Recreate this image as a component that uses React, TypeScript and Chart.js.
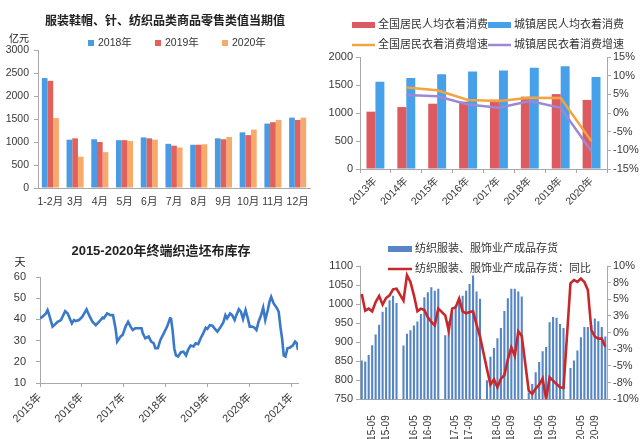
import React, { useEffect, useRef } from 'react';
import { Chart, registerables } from 'chart.js';

Chart.register(...registerables);

const FONT = '"Liberation Sans", "Noto Sans CJK SC", sans-serif';
const TICK = '#383838';
const AXIS = '#A8A8A8';

// ---------- Chart 1: 服装鞋帽、针、纺织品类商品零售类值当期值 ----------
const months1 = ['1-2月', '3月', '4月', '5月', '6月', '7月', '8月', '9月', '10月', '11月', '12月'];
const sales2018 = [2390, 1050, 1060, 1040, 1100, 960, 940, 1080, 1210, 1400, 1530];
const sales2019 = [2330, 1080, 1000, 1040, 1080, 920, 940, 1060, 1150, 1430, 1480];
const sales2020 = [1520, 680, 780, 1020, 1050, 880, 950, 1110, 1270, 1480, 1530];

// ---------- Chart 2: 人均衣着消费 ----------
const years2 = ['2013年', '2014年', '2015年', '2016年', '2017年', '2018年', '2019年', '2020年'];
const nationalSpend = [1024, 1106, 1166, 1203, 1238, 1292, 1338, 1234];
const urbanSpend = [1556, 1627, 1692, 1739, 1758, 1806, 1835, 1645];
const nationalGrowth = [null, 6.8, 6.1, 3.5, 3.2, 4.1, 4.0, -7.6];
const urbanGrowth = [null, 4.8, 4.5, 2.3, 1.4, 3.2, 1.4, -10.3];

// ---------- Chart 3: 2015-2020年终端织造坯布库存 (weekly, x = year fraction) ----------
const stockT = [
  2015.0, 2015.06, 2015.14, 2015.18, 2015.22, 2015.3, 2015.34, 2015.42, 2015.5, 2015.6,
  2015.66, 2015.76, 2015.81, 2015.85, 2015.93, 2016.01, 2016.11, 2016.17, 2016.25, 2016.33,
  2016.41, 2016.49, 2016.52, 2016.6, 2016.68, 2016.74, 2016.8, 2016.84, 2016.92, 2016.97,
  2017.04, 2017.1, 2017.16, 2017.21, 2017.27, 2017.35, 2017.42, 2017.45, 2017.51, 2017.59,
  2017.65, 2017.71, 2017.75, 2017.81, 2017.87, 2017.95, 2018.03, 2018.1, 2018.12, 2018.16,
  2018.2, 2018.24, 2018.29, 2018.36, 2018.42, 2018.48, 2018.53, 2018.59, 2018.66, 2018.71,
  2018.77, 2018.83, 2018.89, 2018.95, 2018.99, 2019.05, 2019.11, 2019.16, 2019.23, 2019.31,
  2019.37, 2019.42, 2019.46, 2019.53, 2019.58, 2019.64, 2019.68, 2019.74, 2019.79, 2019.84,
  2019.9, 2019.95, 2020.0, 2020.05, 2020.11, 2020.16, 2020.21, 2020.27, 2020.32, 2020.37,
  2020.43, 2020.47, 2020.51, 2020.57, 2020.65, 2020.69, 2020.73, 2020.77, 2020.81, 2020.85,
  2020.9, 2020.96, 2021.03, 2021.08, 2021.12, 2021.15,
];
const stockDays = [
  40.5, 41.3, 42.8, 44.4, 42, 36.6, 37.3, 38.9, 39.7, 43.9,
  42.8, 38.1, 39.7, 39.2, 39.7, 41.3, 44.7, 42, 38.9, 37.3,
  38.9, 40.8, 40.5, 42.8, 42, 42, 35.8, 29.5, 31.9, 32.7,
  36.6, 38.9, 36.6, 35, 35.8, 35.8, 35.8, 33.4, 31.1, 31.9,
  29.5, 28.75, 26.4, 26.4, 30.3, 33.4, 36.6, 40.5, 40.8, 35,
  26.4, 23, 22.5, 24.5, 24.8, 23, 25.6, 27.7, 27.2, 28.75,
  28.3, 31.1, 33.4, 36.1, 35.5, 37.3, 37, 35.8, 34.2, 36.6,
  38.6, 42, 40.5, 42.8, 42, 39.7, 42, 44.8, 43.6, 40.2,
  44.4, 40.8, 36.6, 36.6, 36.1, 35, 38.9, 42, 45.5, 39.7,
  44.4, 48.3, 50.6, 47.5, 45.2, 43.6, 36.6, 31.1, 23, 22.5,
  26.4, 26.7, 27.8, 29.5, 28.75, 25.6,
];
const stockYears = [2015, 2016, 2017, 2018, 2019, 2020, 2021];

// ---------- Chart 4: 纺织服装、服饰业产成品存货 (monthly 2015-02 .. 2020-12) ----------
const months4: string[] = [];
for (let y = 15; y <= 20; y++) {
  for (let m = y === 15 ? 2 : 1; m <= 12; m++) months4.push(`${y}-${String(m).padStart(2, '0')}`);
}
const inventory = [
  852, 849, 866, 892, 920, 946, 980, 992, 1010, 1022, 1003,
  null, 891, 922, 931, 944, 954, 974, 1018, 1031, 1044, 1035, 1040,
  null, 918, 955, 979, 996, 1014, 1022, 1035, 1053, 1075, 1033, 1014,
  null, 800, 862, 885, 910, 937, 982, 1015, 1040, 1040, 1033, 1020,
  null, 768, 790, 821, 848, 876, 887, 952, 966, 964, 948, 937,
  null, 832, 852, 878, 913, 940, 940, 945, 962, 955, 940, 915,
];
const inventoryYoY = [
  5.8, 3.3, 3.6, 3.2, 4.6, 5.5, 4.2, 5.2, 5.6, 6.5, 6.6,
  null, 4.8, 8.6, 7.6, 5.6, 3.2, 3.6, 3.4, 2.3, 1.6, 1.1, 3.6,
  null, 2.6, 0.3, 3.6, 3.8, 5.1, 3.2, 2.9, 3.1, 3.2, 1.2, -0.6,
  null, -5.5, -7.8, -7.0, -8.2, -6.9, -6.4, -4.0, -2.2, -3.5, 0.2, -0.5,
  null, -8.7, -9.2, -8.4, -7.8, -6.9, -10.0, -6.7, -7.2, -7.7, -8.2, -8.3,
  null, 7.4, 7.9, 7.6, 8.1, 7.6, 6.4, 0.4, -0.6, -0.9, -0.9, -2.1,
];

// ---------- helpers ----------
const font = (size: number, weight: string = 'normal') => ({ family: FONT, size, weight });
const cssFont = (size: number, weight: string = 'normal') => `${weight} ${size}px ${FONT}`;
const plain = (v: number) => String(v);

const overlay = {
  id: 'overlay',
  afterDraw(chart: any, _a: any, opts: any) {
    const ctx = chart.ctx;
    ctx.save();
    ctx.textBaseline = 'middle';
    (opts.texts || []).forEach((t: any) => {
      ctx.font = t.font;
      ctx.fillStyle = t.color || '#222';
      ctx.textAlign = t.align || 'left';
      ctx.fillText(t.text, t.x, t.y);
    });
    (opts.legend || []).forEach((it: any) => {
      const ds = chart.data.datasets[it.index];
      if (it.kind === 'line') {
        ctx.strokeStyle = ds.borderColor;
        ctx.lineWidth = 2.5;
        ctx.beginPath();
        ctx.moveTo(it.x, it.y);
        ctx.lineTo(it.x + it.w, it.y);
        ctx.stroke();
      } else {
        ctx.fillStyle = ds.backgroundColor;
        ctx.fillRect(it.x, it.y - it.h / 2, it.w, it.h);
      }
      ctx.fillStyle = '#333';
      ctx.font = it.font;
      ctx.textAlign = 'left';
      ctx.fillText(ds.label, it.x + it.w + it.gap, it.y);
    });
    ctx.restore();
  },
};

const yAxisBase = (width: number) => ({
  grid: { display: true, drawOnChartArea: false, drawTicks: true, tickLength: 4, color: AXIS },
  border: { display: true, color: AXIS },
  afterFit: (s: any) => { s.width = width; },
});

function ChartBox({ left, top, width, height, make }: any) {
  const ref = useRef<HTMLCanvasElement>(null);
  useEffect(() => {
    const chart = new Chart(ref.current as HTMLCanvasElement, make());
    return () => chart.destroy();
  }, []);
  return (
    <div style={{ position: 'absolute', left, top, width, height }}>
      <canvas ref={ref} width={width} height={height} style={{ display: 'block' }} />
    </div>
  );
}

const makeQ1 = (): any => ({
  type: 'bar',
  data: {
    labels: months1,
    datasets: [
      { label: '2018年', data: sales2018, backgroundColor: '#4A9BE3' },
      { label: '2019年', data: sales2019, backgroundColor: '#E2625B' },
      { label: '2020年', data: sales2020, backgroundColor: '#F6AA6C' },
    ],
  },
  plugins: [overlay],
  options: {
    responsive: false,
    animation: false,
    layout: { padding: { top: 50, right: 10, left: 0, bottom: 0 } },
    datasets: { bar: { categoryPercentage: 0.69, barPercentage: 1 } },
    plugins: {
      legend: { display: false },
      tooltip: { enabled: false },
      overlay: {
        texts: [
          { text: '服装鞋帽、针、纺织品类商品零售类值当期值', x: 165, y: 22, font: cssFont(12, 'bold'), align: 'center' },
          { text: '亿元', x: 9, y: 39, font: cssFont(10) },
        ],
        legend: [
          { index: 0, x: 88, y: 43, w: 6, h: 6, gap: 4, font: cssFont(10.5) },
          { index: 1, x: 155, y: 43, w: 6, h: 6, gap: 4, font: cssFont(10.5) },
          { index: 2, x: 222, y: 43, w: 6, h: 6, gap: 4, font: cssFont(10.5) },
        ],
      },
    },
    scales: {
      x: {
        grid: { display: true, drawOnChartArea: false, drawTicks: false, color: AXIS },
        border: { display: true, color: AXIS },
        ticks: { font: font(10.5), color: TICK, padding: 8, maxRotation: 0, autoSkip: false },
        afterFit: (s: any) => { s.height = 32; },
      },
      y: {
        ...yAxisBase(38),
        min: 0,
        max: 3000,
        ticks: { font: font(10.5), color: TICK, padding: 5, stepSize: 500, callback: plain },
      },
    },
  },
});

const makeQ2 = (): any => ({
  type: 'bar',
  data: {
    labels: years2,
    datasets: [
      { label: '全国居民人均衣着消费', data: nationalSpend, backgroundColor: '#DE5A61', yAxisID: 'y', order: 2 },
      { label: '城镇居民人均衣着消费', data: urbanSpend, backgroundColor: '#47A1EA', yAxisID: 'y', order: 2 },
      { type: 'line', label: '全国居民衣着消费增速', data: nationalGrowth, borderColor: '#F4A43E', backgroundColor: '#F4A43E', borderWidth: 2.5, pointRadius: 0, yAxisID: 'y1', order: 0 },
      { type: 'line', label: '城镇居民衣着消费增速', data: urbanGrowth, borderColor: '#9C89D6', backgroundColor: '#9C89D6', borderWidth: 2.5, pointRadius: 0, yAxisID: 'y1', order: 1 },
    ],
  },
  plugins: [overlay],
  options: {
    responsive: false,
    animation: false,
    layout: { padding: { top: 57, right: 0, left: 0, bottom: 0 } },
    datasets: { bar: { categoryPercentage: 0.58, barPercentage: 1 } },
    plugins: {
      legend: { display: false },
      tooltip: { enabled: false },
      overlay: {
        legend: [
          { index: 0, x: 32, y: 25, w: 23, h: 6, gap: 3, font: cssFont(11) },
          { index: 1, x: 168, y: 25, w: 23, h: 6, gap: 3, font: cssFont(11) },
          { index: 2, x: 32, y: 45, w: 23, h: 6, gap: 3, font: cssFont(11), kind: 'line' },
          { index: 3, x: 168, y: 45, w: 23, h: 6, gap: 3, font: cssFont(11), kind: 'line' },
        ],
      },
    },
    scales: {
      x: {
        grid: { display: true, drawOnChartArea: false, drawTicks: true, tickLength: 4, color: AXIS },
        border: { display: true, color: AXIS },
        ticks: { font: font(10.5), color: TICK, padding: 2, minRotation: 45, maxRotation: 45, autoSkip: false },
        afterFit: (s: any) => { s.height = 51; },
      },
      y: {
        ...yAxisBase(40),
        position: 'left',
        min: 0,
        max: 2000,
        ticks: { font: font(11), color: TICK, padding: 3, stepSize: 500, callback: plain },
      },
      y1: {
        ...yAxisBase(33),
        position: 'right',
        min: -15,
        max: 15,
        ticks: { font: font(11), color: TICK, padding: 2, stepSize: 5, callback: (v: number) => `${v}%` },
      },
    },
  },
});

const makeQ3 = (): any => ({
  type: 'line',
  data: {
    datasets: [
      {
        label: '坯布库存',
        data: stockT.map((t, i) => ({ x: t, y: stockDays[i] })),
        borderColor: '#3A78C9',
        borderWidth: 2.6,
        pointRadius: 0,
        tension: 0,
      },
    ],
  },
  plugins: [overlay],
  options: {
    responsive: false,
    animation: false,
    layout: { padding: { top: 57, right: 22, left: 0, bottom: 0 } },
    plugins: {
      legend: { display: false },
      tooltip: { enabled: false },
      overlay: {
        texts: [
          { text: '2015-2020年终端织造坯布库存', x: 161, y: 31, font: cssFont(13, 'bold'), align: 'center' },
          { text: '天', x: 20, y: 43, font: cssFont(11), align: 'center' },
        ],
      },
    },
    scales: {
      x: {
        type: 'linear',
        min: stockYears[0],
        max: 2021.15,
        grid: { display: true, drawOnChartArea: false, drawTicks: true, tickLength: 4, color: AXIS },
        border: { display: true, color: AXIS },
        ticks: {
          font: font(11),
          color: TICK,
          padding: 4,
          stepSize: 1,
          includeBounds: false,
          minRotation: 45,
          maxRotation: 45,
          callback: (v: number) => (stockYears.includes(v) ? `${v}年` : ''),
        },
        afterFit: (s: any) => { s.height = 56; },
      },
      y: {
        ...yAxisBase(40),
        min: 10,
        max: 60,
        ticks: { font: font(11), color: TICK, padding: 10, stepSize: 10, callback: plain },
      },
    },
  },
});

const makeQ4 = (): any => ({
  type: 'bar',
  data: {
    labels: months4,
    datasets: [
      { label: '纺织服装、服饰业产成品存货', data: inventory, backgroundColor: '#5585C5', yAxisID: 'y', order: 1 },
      { type: 'line', label: '纺织服装、服饰业产成品存货：同比', data: inventoryYoY, borderColor: '#C8282B', backgroundColor: '#C8282B', borderWidth: 2.6, pointRadius: 0, spanGaps: true, yAxisID: 'y1', order: 0 },
    ],
  },
  plugins: [overlay],
  options: {
    responsive: false,
    animation: false,
    layout: { padding: { top: 46, right: 0, left: 0, bottom: 0 } },
    datasets: { bar: { categoryPercentage: 0.6, barPercentage: 1 } },
    plugins: {
      legend: { display: false },
      tooltip: { enabled: false },
      overlay: {
        legend: [
          { index: 0, x: 68, y: 29, w: 24, h: 6, gap: 3, font: cssFont(11) },
          { index: 1, x: 68, y: 49, w: 24, h: 6, gap: 3, font: cssFont(11), kind: 'line' },
        ],
      },
    },
    scales: {
      x: {
        grid: { display: false },
        border: { display: true, color: AXIS },
        ticks: {
          font: font(10),
          color: TICK,
          padding: 8,
          minRotation: 90,
          maxRotation: 90,
          autoSkip: false,
          callback: (_v: any, i: number) => (/-0[59]$/.test(months4[i]) ? months4[i] : ''),
        },
        afterFit: (s: any) => { s.height = 39.7; },
      },
      y: {
        ...yAxisBase(40),
        position: 'left',
        min: 750,
        max: 1100,
        ticks: { font: font(11), color: TICK, padding: 3, stepSize: 50, callback: plain },
      },
      y1: {
        ...yAxisBase(33),
        position: 'right',
        min: -10,
        max: 10,
        ticks: { font: font(11), color: TICK, padding: 2, stepSize: 2.5, callback: (v: number) => `${v.toFixed(0)}%` },
      },
    },
  },
});

export default function App() {
  return (
    <div style={{ position: 'fixed', left: 0, top: 0, width: 640, height: 439, background: '#fff', overflow: 'hidden' }}>
      <ChartBox left={0} top={0} width={320} height={220} make={makeQ1} />
      <ChartBox left={320} top={0} width={320} height={220} make={makeQ2} />
      <ChartBox left={0} top={220} width={320} height={219} make={makeQ3} />
      <ChartBox left={320} top={220} width={320} height={219} make={makeQ4} />
    </div>
  );
}
